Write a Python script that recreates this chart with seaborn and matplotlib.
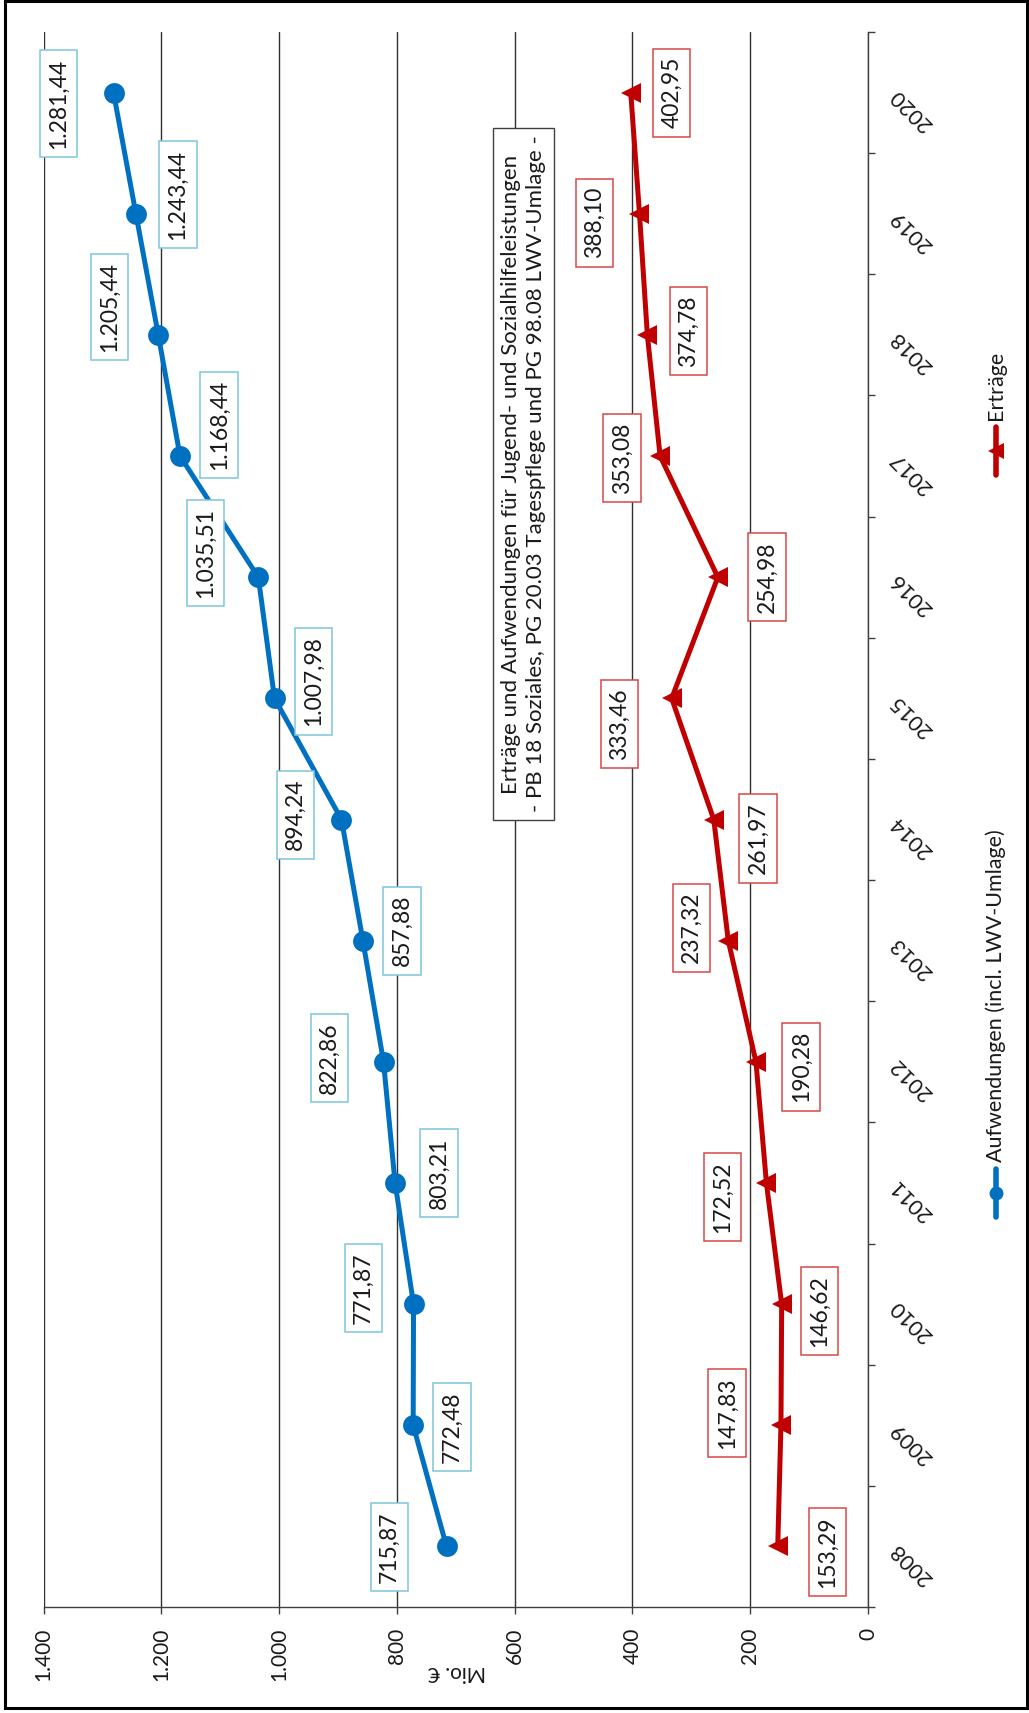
import numpy as np
import pandas as pd
import matplotlib
matplotlib.use("Agg")
import matplotlib.pyplot as plt
import seaborn as sns
from matplotlib.lines import Line2D
from matplotlib.patches import Rectangle
from matplotlib.transforms import ScaledTranslation

# ---------------- data ----------------
years = [2008, 2009, 2010, 2011, 2012, 2013, 2014, 2015, 2016, 2017, 2018, 2019, 2020]
aufwendungen = [715.87, 772.48, 771.87, 803.21, 822.86, 857.88, 894.24,
                1007.98, 1035.51, 1168.44, 1205.44, 1243.44, 1281.44]
ertraege = [153.29, 147.83, 146.62, 172.52, 190.28, 237.32, 261.97,
            333.46, 254.98, 353.08, 374.78, 388.10, 402.95]
series_names = ["Aufwendungen (incl. LWV-Umlage)", "Erträge"]
value_ticks = [0, 200, 400, 600, 800, 1000, 1200, 1400]
value_tick_labels = ["0", "200", "400", "600", "800", "1.000", "1.200", "1.400"]
axis_label = "Mio. €"
title_lines = ["Erträge und Aufwendungen für Jugend- und Sozialhilfeleistungen",
               "- PB 18 Soziales, PG 20.03 Tagespflege und PG 98.08 LWV-Umlage -"]

# label offsets (pixels, +x right, +y down) – layout only
blue_dx = [-57, 39, -50, 44, -54, 39, -46, 39, -53, 39, -49, 42, -55]
blue_dy = [1, 2, -16, -10, -4, -10, -5, -17, -24, -31, -28, -19, 11]
red_dx = [50, -54, 38, -44, 45, -37, 44, -52, 49, -38, 41, -45, 41]
red_dy = [6, -12, 7, 14, 5, -13, 19, 26, 0, 2, -4, 9, 0]

BLUE = "#0070C0"
RED = "#C00000"
BLUE_BOX = "#7FC6DC"
RED_BOX = "#D84848"
TXT = "#1a1a1a"
AXC = "#404040"


def de(v):
    s = f"{v:,.2f}"
    return s.replace(",", "X").replace(".", ",").replace("X", ".")


sns.set_theme(style="white")
plt.rcParams["font.family"] = ["Lato", "DejaVu Sans"]

W, H = 1029, 1713
fig = plt.figure(figsize=(W / 100, H / 100), dpi=100)


def fx(px):
    return px / W


def fy(py):
    return 1 - py / H


ax = fig.add_axes([fx(43.7), fy(1607), fx(868) - fx(43.7), fy(32) - fy(1607)])

df = pd.DataFrame({
    "year": years * 2,
    "value": aufwendungen + ertraege,
    "series": [series_names[0]] * len(years) + [series_names[1]] * len(years),
})

sns.lineplot(data=df[df.series == series_names[0]], x="value", y="year", orient="y",
             color=BLUE, lw=3.6, marker="o", markersize=15, markeredgewidth=0,
             ax=ax, legend=False, zorder=3)
sns.lineplot(data=df[df.series == series_names[1]], x="value", y="year", orient="y",
             color=RED, lw=3.6, marker="<", markersize=15, markeredgewidth=0,
             ax=ax, legend=False, zorder=3)

ax.set_xlim(1400, 0)
ax.set_ylim(2007.5, 2020.5)
ax.set_xlabel("")
ax.set_ylabel("")

# value axis (bottom)
ax.set_xticks(value_ticks)
ax.set_xticklabels(value_tick_labels, rotation=90, fontsize=15, color=TXT)
ax.tick_params(axis="x", which="major", direction="out", length=5, width=1.0,
               color=AXC, pad=10, bottom=True, top=False)
ax.xaxis.grid(True, color="#303030", lw=1.0)
ax.yaxis.grid(False)

# category axis (right)
ax.yaxis.tick_right()
ax.set_yticks(years)
ax.set_yticklabels([""] * len(years))
ax.set_yticks(np.arange(2007.5, 2021.0, 1.0), minor=True)
ax.tick_params(axis="y", which="major", length=0, right=True, left=False)
ax.tick_params(axis="y", which="minor", length=5, width=1.0, color=AXC,
               direction="out", right=True, left=False)
ytxt_tr = ax.get_yaxis_transform() + ScaledTranslation(43 / 100, -17 / 100, fig.dpi_scale_trans)
for yr in years:
    ax.text(1.0, yr, str(yr), transform=ytxt_tr, rotation=135, ha="center", va="center",
            fontsize=15.5, color=TXT, clip_on=False)

for side in ["left", "top"]:
    ax.spines[side].set_visible(False)
for side in ["bottom", "right"]:
    ax.spines[side].set_visible(True)
    ax.spines[side].set_color(AXC)
    ax.spines[side].set_linewidth(1.0)

# data labels
for yr, v, dx, dy in zip(years, aufwendungen, blue_dx, blue_dy):
    ax.annotate(de(v), xy=(v, yr), xytext=(dx, -dy), textcoords="offset pixels",
                rotation=90, ha="center", va="center", fontsize=16.5, color=TXT,
                bbox=dict(boxstyle="square,pad=0.36", fc="white", ec=BLUE_BOX, lw=1.1),
                zorder=5)
for yr, v, dx, dy in zip(years, ertraege, red_dx, red_dy):
    ax.annotate(de(v), xy=(v, yr), xytext=(dx, -dy), textcoords="offset pixels",
                rotation=90, ha="center", va="center", fontsize=16.5, color=TXT,
                bbox=dict(boxstyle="square,pad=0.36", fc="white", ec=RED_BOX, lw=1.1),
                zorder=5)

# title box
fig.text(fx(523.5), fy(474), "\n".join(title_lines), rotation=90, ha="center", va="center",
         multialignment="center", linespacing=1.3, fontsize=16, color=TXT,
         bbox=dict(boxstyle="square,pad=0.35", fc="white", ec="#404040", lw=1.0), zorder=6)

# axis title
fig.text(fx(457), fy(1672), axis_label, rotation=180, ha="center", va="center",
         fontsize=15, color=TXT)

# legend (drawn rotated)
lx = fx(996)
fig.add_artist(Line2D([lx, lx, lx], [fy(475), fy(451), fy(427)], color=RED, lw=4.0,
                      marker="<", markersize=11, markevery=[1], markeredgewidth=0,
                      solid_capstyle="round"))
fig.text(lx, fy(420), series_names[1], rotation=90, ha="center", va="bottom",
         fontsize=15.5, color=TXT)
fig.add_artist(Line2D([lx, lx, lx], [fy(1217), fy(1193), fy(1169)], color=BLUE, lw=4.0,
                      marker="o", markersize=10, markevery=[1], markeredgewidth=0,
                      solid_capstyle="round"))
fig.text(lx, fy(1162), series_names[0], rotation=90, ha="center", va="bottom",
         fontsize=15.5, color=TXT)

# outer border
fig.add_artist(Rectangle((fx(5), fy(1708)), fx(1027) - fx(5), fy(1) - fy(1708),
                         transform=fig.transFigure, fill=False, ec="black", lw=2.2))

fig.savefig("out.png", dpi=100)
